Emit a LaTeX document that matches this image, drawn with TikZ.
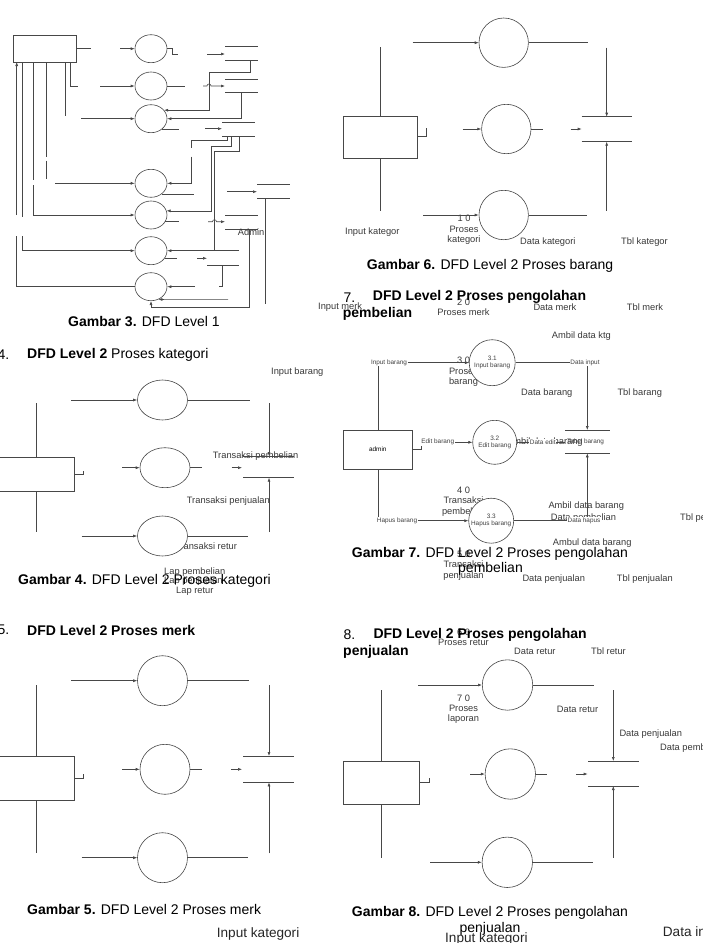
\documentclass[tikz,border=0pt]{standalone}
\usepackage{fontspec}
\setmainfont{Liberation Sans}
\usetikzlibrary{arrows.meta,shapes.geometric}
\tikzstyle{flow}=[draw=black!72,line width=0.6pt]
\tikzstyle{arrow}=[flow,-{Latex[length=4pt,width=3pt]}]
\tikzstyle{process}=[circle,flow,fill=white,minimum size=50pt,inner sep=0pt]
\tikzstyle{small process}=[ellipse,flow,fill=white,minimum width=32pt,minimum height=28pt,inner sep=0pt]
\tikzstyle{wide process}=[ellipse,flow,fill=white,minimum width=50pt,minimum height=40pt,inner sep=0pt]
\tikzstyle{entity}=[rectangle,flow,fill=white,inner sep=0pt]
\tikzstyle{heading}=[anchor=west,inner sep=0pt,font=\fontsize{14}{16}\selectfont]
\tikzstyle{note}=[anchor=west,inner sep=0pt,text=black!78,font=\fontsize{9.3}{10.3}\selectfont]
\tikzstyle{leak}=[inner sep=0pt,align=center,text=black!78,font=\fontsize{9.3}{10.3}\selectfont]
\tikzstyle{mini}=[inner sep=0.6pt,fill=white,text=black!75,font=\fontsize{6.4}{7.4}\selectfont]
\tikzstyle{big note}=[anchor=west,inner sep=0pt,text=black!85,font=\fontsize{13.6}{15}\selectfont]
\newcommand{\datastore}[4]{\draw[flow] (#1,#3) -- (#2,#3) (#1,#4) -- (#2,#4);}

\begin{document}
\begin{tikzpicture}[x=1pt,y=-1pt]
    \useasboundingbox (0,0) rectangle (702,943);
    % Gambar 3
    \node[entity,minimum width=63pt,minimum height=27pt] (admin3) at (44.5,48.5) {};
    \foreach \y/\name in {48.7/p1,86/p2,118.7/p3,183.3/p4,215/p5,250.7/p6,286.7/p7}
        \node[small process] (\name) at (151,\y) {};
    \draw[flow] (admin3.east) -- (91,48.5);
    \draw[arrow] (120,48.7) -- (p1.west);
    \draw[flow] (70,62) |- (77.7,86);
    \draw[arrow] (100,86) -- (p2.west);
    \draw[flow] (65.3,62) -- (65.3,115.7);
    \draw[arrow] (81,118.7) -- (p3.west);
    \draw[flow] (46.7,62) -- (46.7,157) (46.7,160.5) -- (46.7,179.3);
    \draw[arrow] (55,183.3) -- (p4.west);
    \draw[flow] (33.3,62) -- (33.3,180);
    \draw[arrow] (33.3,185) |- (p5.west);
    \draw[flow] (22.7,62) -- (22.7,216.7);
    \draw[arrow] (22.7,236) |- (p6.west);
    \draw[arrow] (16.7,215) -- (16.7,62);
    \draw[flow] (16.7,236) |- (p7.west);
    \draw[flow] (p1.east) -- ++(5,0) |- (178,54);
    \draw[arrow] (207,54) -- (225,54);
    \datastore{225}{258}{46}{60.7}
    \draw[arrow] (250,60.7) |- (209,72) |- (p3.33);
    \draw[flow] (p2.east) -- (185,86);
    \draw[arrow] (203,86) -- (207,86) arc[start angle=180,end angle=360,radius=2] -- (225,86);
    \datastore{225}{258}{79.3}{92.7}
    \draw[arrow] (241,92.7) |- (p3.east);
    \draw[flow] (p3.-45) -- ++(17,0);
    \draw[arrow] (205,128.7) -- (222,128.7);
    \datastore{222}{255}{122}{136}
    \draw[flow] (227,136) |- (191.7,140) -- (191.7,148.3);
    \draw[arrow] (191.7,156.7) |- (p4.east);
    \draw[arrow] (231,136) |- (211.7,146.7) |- (p5.15);
    \draw[flow] (239,136) |- (214.5,151.7) -- (214.5,250.7);
    \draw[arrow] (239,250.7) -- (p6.east);
    \draw[flow] (p4.-45) -- ++(32,0);
    \draw[arrow] (227,191.7) -- (257,191.7);
    \datastore{257}{290}{184.3}{198.3}
    \draw[flow] (265,198.3) -- (265,304);
    \draw[flow] (p5.-25) -- ++(14,0);
    \draw[arrow] (208,221.7) -- (212.5,221.7) arc[start angle=180,end angle=360,radius=2] -- (225,221.7);
    \datastore{225}{258}{215.7}{229}
    \node[note] (admtext) at (237.7,232) {Admin};
    \draw[arrow] (249,229) -- (249,307.7) -| (p7.south);
    \draw[arrow] (228,299.3) -- (p7.-60);
    \draw[flow] (p6.-30) -- ++(12,0);
    \draw[arrow] (197,258.3) -- (207,258.3);
    \draw[flow] (207,265.7) -- (239,265.7);
    \draw[flow] (222,265.7) |- (219,286.7);
    \draw[arrow] (195,286.7) -- (p7.east);
    \node[heading] at (68,322) {\textbf{Gambar 3.} DFD Level 1};
    % Gambar 4
    \node[heading] at (-2.5,355) {4.};
    \node[heading] at (27,355) {\textbf{DFD Level 2} Proses kategori};
    \node[note] at (271,372.3) {Input barang};
    \node[note] at (212.7,456) {Transaksi pembelian};
    \node[note] at (186.7,501) {Transaksi penjualan};
    \node[note] at (175,545.7) {Transaksi retur};
    \node[note] at (164,572.3) {Lap pembelian};
    \node[note] at (164,581.5) {Lap penjualan};
    \node[note] at (176,591.7) {Lap retur};
    \node[entity,minimum width=88pt,minimum height=33.3pt] (admin4) at (30,474.3) {};
    \foreach \pos/\name in {{(162.5,400)/k1},{(165,467.7)/k2},{(162.5,536)/k3}}
        \node[wide process] (\name) at \pos {};
    \draw[flow] (36,403) -- (36,457.7) (36,491) -- (36,531.7);
    \draw[flow] (74,474) -- (83,474) -- (83,470.5);
    \draw[arrow] (71,400) -- (k1.west);
    \draw[flow] (k1.east) -- (250,400);
    \draw[arrow] (122,467.7) -- (k2.west);
    \draw[flow] (k2.east) -- (201.7,467.7);
    \draw[arrow] (231.7,467.7) -- (242,467.7);
    \draw[arrow] (81.7,536) -- (k3.west);
    \draw[flow] (k3.east) -- (247.7,536);
    \datastore{243}{294}{456}{477.7}
    \draw[arrow] (269,403.3) -- (269,456);
    \draw[arrow] (269,532) -- (269,477.7);
    \node[heading] at (18,580.7) {\textbf{Gambar 4.} DFD Level 2 Proses kategori};
    % Gambar 5
    \node[heading] at (-2.5,630) {5.};
    \node[heading] at (27,630) {\textbf{DFD Level 2 Proses merk}};
    \node[entity,minimum width=88pt,minimum height=44pt] (admin5) at (30,778) {};
    \foreach \pos/\name in {{(162.5,680.7)/m1},{(165,769.3)/m2},{(162.5,857.7)/m3}}
        \node[process] (\name) at \pos {};
    \draw[flow] (36,685) -- (36,756) (36,800) -- (36,853.3);
    \draw[flow] (74,778.3) -- (83,778.3) -- (83,774);
    \draw[arrow] (71,680.7) -- (m1.west);
    \draw[flow] (m1.east) -- (249.3,680.7);
    \draw[arrow] (122,769.3) -- (m2.west);
    \draw[flow] (m2.east) -- (201.7,769.3);
    \draw[arrow] (231,769.3) -- (242,769.3);
    \draw[arrow] (81.7,857.7) -- (m3.west);
    \draw[flow] (m3.east) -- (247.7,857.7);
    \datastore{243}{294}{756}{782.3}
    \draw[arrow] (269,685) -- (269,756);
    \draw[arrow] (269,853.3) -- (269,782.3);
    \node[heading] at (27,909.3) {\textbf{Gambar 5.} DFD Level 2 Proses merk};
    \node[big note] at (216.7,934) {Input kategori};
    % Gambar 6
    \node[note] at (345,231.7) {Input kategor};
    \node[leak] at (464,230) {1 0\\Proses\\kategori};
    \node[note] at (520,242.3) {Data kategori};
    \node[note] at (621,242.3) {Tbl kategor};
    \node[entity,minimum width=74pt,minimum height=41.3pt] (admin6) at (380.3,137.3) {};
    \foreach \pos/\name in {{(503.7,42.7)/b1},{(506.3,129)/b2},{(503.7,215)/b3}}
        \node[process,minimum size=49.4pt] (\name) at \pos {};
    \draw[flow] (380.7,47.3) -- (admin6.north -| 380.7,0) (admin6.south -| 380.7,0) -- (380.7,210.7);
    \draw[flow] (417.3,136.7) -- (426.7,136.7) -- (426.7,128.3);
    \draw[arrow] (412.7,42.7) -- (b1.west);
    \draw[flow] (b1.east) -- (588.3,42.7);
    \draw[arrow] (462.7,129) -- (b2.west);
    \draw[flow] (b2.east) -- (542.7,129);
    \draw[arrow] (570.7,129) -- (581.7,129);
    \draw[arrow] (423.3,215) -- (b3.west);
    \draw[flow] (b3.east) -- (586.7,215);
    \datastore{581.7}{631.7}{116.7}{141.7}
    \draw[arrow] (606.7,47.7) -- (606.7,116.7);
    \draw[arrow] (606.7,210.7) -- (606.7,141.7);
    \node[heading] at (366.7,265.7) {\textbf{Gambar 6.} DFD Level 2 Proses barang};
    % Gambar 7
    \node[note] at (318,307.3) {Input merk};
    \node[leak] at (463.5,307.5) {2 0\\Proses merk};
    \node[note] at (533.3,307.3) {Data merk};
    \node[note] at (626.7,307.3) {Tbl merk};
    \node[note] at (551.7,336) {Ambil data ktg};
    \node[leak] at (463.5,372) {3 0\\Proses\\barang};
    \node[note] at (521,393.3) {Data barang};
    \node[note] at (617.3,393.3) {Tbl barang};
    \node[note] at (507,442.3) {Ambil data barang};
    \node[leak] at (463.5,501.7) {4 0\\Transaksi\\pembelian};
    \node[note] at (548.3,506) {Ambil data barang};
    \node[note] at (550.7,517.7) {Data pembelian};
    \node[note] at (680,517.7) {Tbl pembelian};
    \node[note] at (552.7,543.3) {Ambul data barang};
    \node[leak] at (463.5,565.7) {5 0\\Transaksi\\penjualan};
    \node[note] at (522.3,579) {Data penjualan};
    \node[note] at (616.7,579) {Tbl penjualan};
    \node[heading] at (343.3,297.3) {7.};
    \node[heading] at (372.7,297.3) {\textbf{DFD Level 2 Proses pengolahan}};
    \node[heading] at (342.7,314.3) {\textbf{pembelian}};
    \node[entity,minimum width=69pt,minimum height=39pt,font=\fontsize{6.4}{7.4}\selectfont] (admin7) at (377.8,449.5) {admin};
    \foreach \pos/\name/\size/\text in {{(492.2,362.7)/s1/46pt/3.1\\Input barang},{(494.7,442.3)/s2/44pt/3.2\\Edit barang},{(491.2,520.7)/s3/45pt/3.3\\Hapus barang}}
        \node[process,minimum size=\size,align=center,text=black!75,font=\fontsize{6.4}{7.4}\selectfont] (\name) at \pos {\text};
    \draw[arrow] (admin7.north) |- (s1.west);
    \draw[arrow] (admin7.east) -- (421,449.5) |- (s2.west);
    \draw[arrow] (admin7.south) |- (s3.west);
    \draw[arrow] (s1.east) -| (587.3,430);
    \draw[flow] (s2.east) -- (565,442.3);
    \draw[arrow] (s3.east) -| (587.3,453.3);
    \datastore{565}{610}{430}{453.3}
    \node[mini] at (389,362.7) {Input barang};
    \node[mini] at (437.7,442.3) {Edit barang};
    \node[mini] at (397,520.7) {Hapus barang};
    \node[mini] at (585,362.7) {Data input};
    \node[mini] at (542.8,442.3) {Data edit};
    \node[mini] at (584,520.7) {Data hapus};
    \node[mini,fill=none] at (585.5,442.3) {Tabel barang};
    \node[heading] at (351.7,554) {\textbf{Gambar 7.} DFD Level 2 Proses pengolahan};
    \node[heading,anchor=center] at (490.5,569.3) {pembelian};
    % Gambar 8
    \node[leak] at (463.5,637.5) {6 0\\Proses retur};
    \node[note] at (514,651) {Data retur};
    \node[note] at (591,651) {Tbl retur};
    \node[heading] at (343.3,635) {8.};
    \node[heading] at (373.3,635) {\textbf{DFD Level 2 Proses pengolahan}};
    \node[heading] at (343,651.7) {\textbf{penjualan}};
    \node[leak] at (463.5,709.3) {7 0\\Proses\\laporan};
    \node[note] at (556.7,709.3) {Data retur};
    \node[note] at (619.3,734) {Data penjualan};
    \node[note] at (660,748.3) {Data pembelian};
    \node[entity,minimum width=76pt,minimum height=43pt] (admin8) at (381.3,782.5) {};
    \foreach \pos/\name in {{(507.5,685)/r1},{(510.3,774)/r2},{(507.3,862.3)/r3}}
        \node[process,minimum size=50.4pt] (\name) at \pos {};
    \draw[flow] (381.7,690) -- (381.7,761) (381.7,804) -- (381.7,857.7);
    \draw[flow] (419.3,782.7) -- (429,782.7) -- (429,778.3);
    \draw[arrow] (418.3,685) -- (r1.west);
    \draw[flow] (r1.east) -- (594.3,685);
    \draw[arrow] (470,774) -- (r2.west);
    \draw[flow] (r2.east) -- (547.3,774);
    \draw[arrow] (576,774) -- (587.7,774);
    \draw[arrow] (430,862.3) -- (r3.west);
    \draw[flow] (r3.east) -- (592.7,862.3);
    \datastore{588.3}{639}{761}{786}
    \draw[arrow] (613.3,690) -- (613.3,761);
    \draw[arrow] (613.3,857.7) -- (613.3,786);
    \node[heading] at (351.7,913.3) {\textbf{Gambar 8.} DFD Level 2 Proses pengolahan};
    \node[heading,anchor=center] at (490,929.3) {penjualan};
    \node[big note] at (445,939.3) {Input kategori};
    \node[big note] at (662.7,933.3) {Data input};
\end{tikzpicture}
\end{document}
